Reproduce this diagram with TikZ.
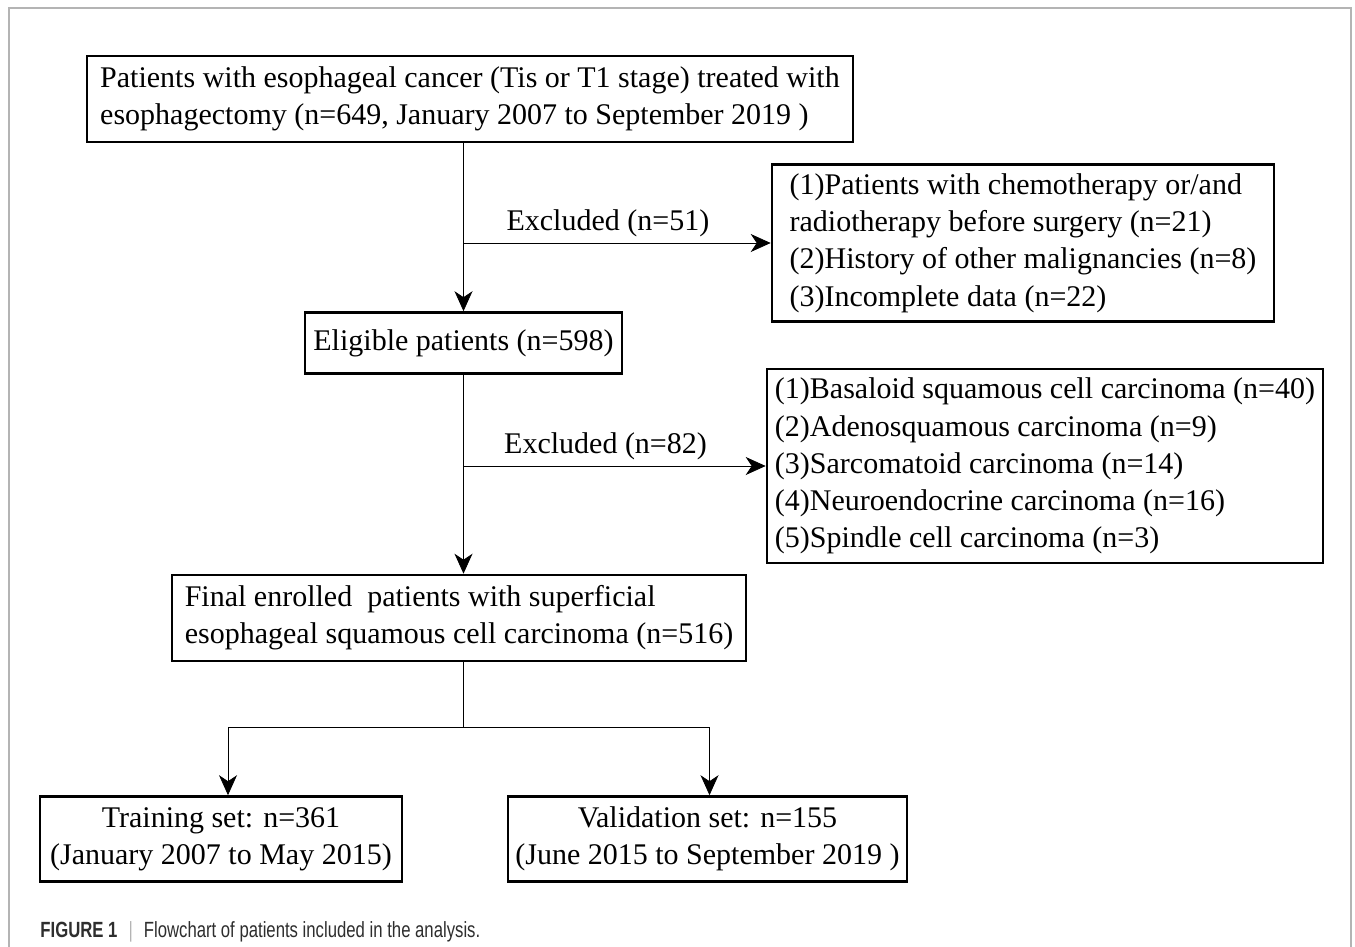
\documentclass[tikz,border=0pt]{standalone}
\usepackage{fontspec}
\setmainfont{Liberation Serif}
\setsansfont{Liberation Sans}
\newfontfamily\capfont[FakeStretch=0.76]{Liberation Sans}
\usetikzlibrary{arrows.meta}
\definecolor{framegray}{HTML}{B4B4B4}
\definecolor{captext}{HTML}{2E2E2E}
\tikzset{
  box/.style={draw, line width=1.3pt, inner sep=0pt, align=left,
    font=\fontsize{15}{18.6}\selectfont},
  lbl/.style={font=\fontsize{15}{18.6}\selectfont, inner sep=3pt},
  >={Stealth[length=10pt,width=9pt,inset=3pt]}, line width=1.25pt
}

\begin{document}
\begin{tikzpicture}[x=0.5pt, y=-0.5pt]
    \useasboundingbox (0,0) rectangle (1355,947);
    \draw[framegray, line width=0.6pt] (9,947) -- (9,8) -- (1351,8) -- (1351,947);

    \node[box, minimum width=383pt, minimum height=43pt] (start) at (470,99)
      {Patients with esophageal cancer (Tis or T1 stage) treated with\\
       esophagectomy (n=649, January 2007 to September 2019 )};
    \node[box, minimum width=251pt, minimum height=78.5pt] (excla) at (1023,243)
      {(1)Patients with chemotherapy or/and\\
       radiotherapy before surgery (n=21)\\
       (2)History of other malignancies (n=8)\\
       (3)Incomplete data (n=22)};
    \node[box, minimum width=158.5pt, minimum height=30.5pt] (elig) at (463.5,343)
      {Eligible patients (n=598)};
    \node[box, minimum width=278pt, minimum height=97pt] (exclb) at (1045,466)
      {(1)Basaloid squamous cell carcinoma (n=40)\\
       (2)Adenosquamous carcinoma (n=9)\\
       (3)Sarcomatoid carcinoma (n=14)\\
       (4)Neuroendocrine carcinoma (n=16)\\
       (5)Spindle cell carcinoma (n=3)};
    \node[box, minimum width=287pt, minimum height=43pt] (final) at (459,618)
      {Final enrolled\ \ patients with superficial\\
       esophageal squamous cell carcinoma (n=516)};
    \node[box, align=center, minimum width=181pt, minimum height=42.5pt] (train) at (221,839)
      {Training set: n=361\\(January 2007 to May 2015)};
    \node[box, align=center, minimum width=199.5pt, minimum height=42.5pt] (valid) at (707.5,839)
      {Validation set: n=155\\(June 2015 to September 2019 )};
    \coordinate (split) at (463,727);

    \draw[->] (start.south -| elig) -- (elig);
    \draw[->] (excla.west -| elig) -- node[lbl, above, pos=0.47] {Excluded (n=51)} (excla.west);
    \draw[->] (elig) -- (final.north -| elig);
    \draw[->] (exclb.west -| elig) -- node[lbl, above, pos=0.47] {Excluded (n=82)} (exclb.west);
    \draw (final.south -| split) -- (split);
    \draw[->] (split) -| ([xshift=3.5pt]train.north);
    \draw[->] (split) -| ([xshift=1pt]valid.north);

    % caption
    \node[anchor=west, inner sep=0pt, text=captext,
      font=\capfont\fontsize{11}{13}\selectfont] (cap) at (40,932)
      {\textbf{FIGURE 1}\enspace{\color{framegray}|}\enspace Flowchart of patients included in the analysis.};
\end{tikzpicture}
\end{document}
